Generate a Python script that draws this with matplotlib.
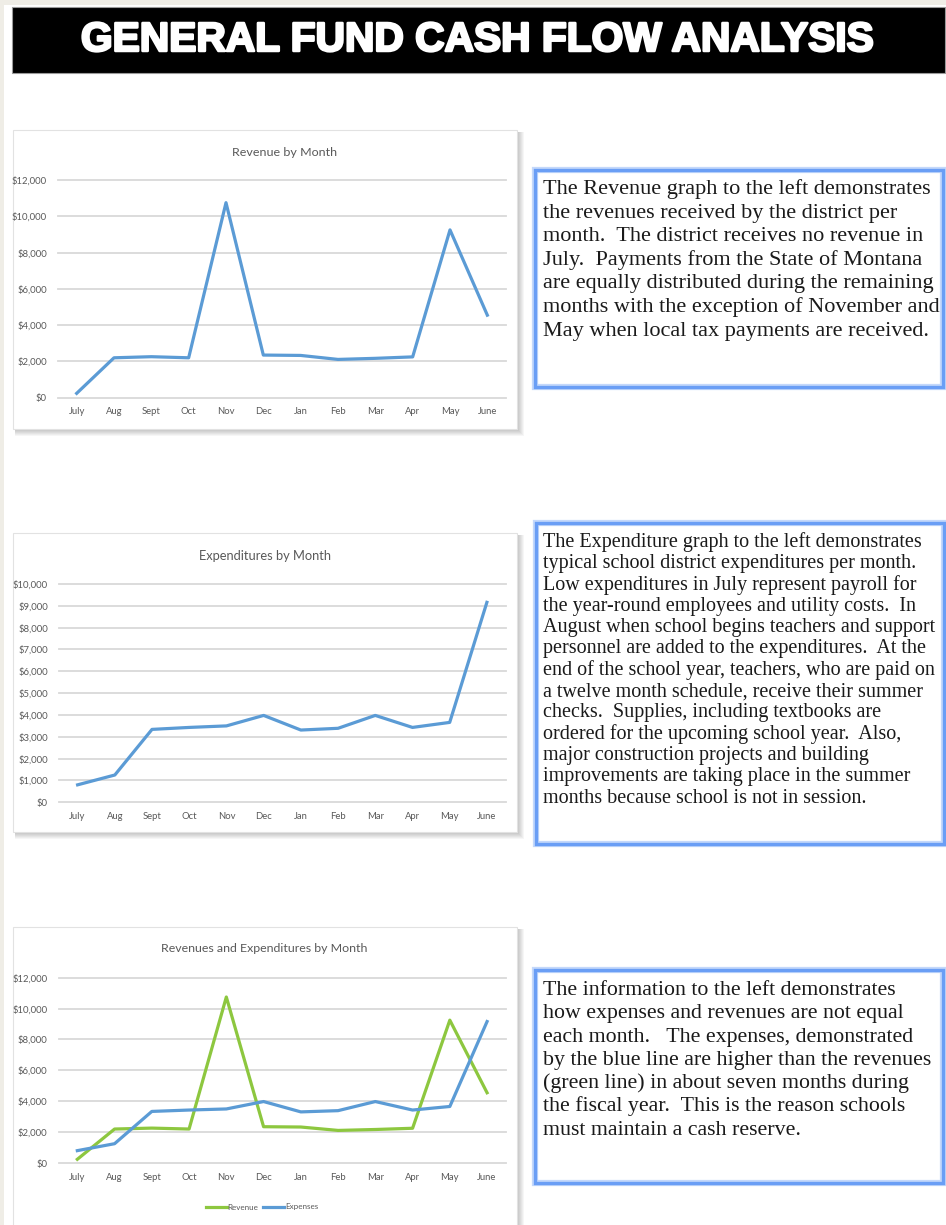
import matplotlib.pyplot as plt
import matplotlib.patheffects as pe
from matplotlib.patches import Rectangle
from matplotlib.lines import Line2D

W, H = 946, 1225

months = ['July', 'Aug', 'Sept', 'Oct', 'Nov', 'Dec', 'Jan', 'Feb', 'Mar', 'Apr', 'May', 'June']
revenue = [240, 2200, 2260, 2200, 10750, 2350, 2330, 2110, 2170, 2250, 9250, 4550]
expenses = [800, 1250, 3340, 3430, 3500, 3980, 3310, 3390, 3980, 3430, 3660, 9160]

page_title = 'GENERAL FUND CASH FLOW ANALYSIS'
chart_titles = ['Revenue by Month', 'Expenditures by Month', 'Revenues and Expenditures by Month']

text1 = ['The Revenue graph to the left demonstrates',
         'the revenues received by the district per',
         'month.  The district receives no revenue in',
         'July.  Payments from the State of Montana',
         'are equally distributed during the remaining',
         'months with the exception of November and',
         'May when local tax payments are received.']
text2 = ['The Expenditure graph to the left demonstrates',
         'typical school district expenditures per month.',
         'Low expenditures in July represent payroll for',
         'the year-round employees and utility costs.  In',
         'August when school begins teachers and support',
         'personnel are added to the expenditures.  At the',
         'end of the school year, teachers, who are paid on',
         'a twelve month schedule, receive their summer',
         'checks.  Supplies, including textbooks are',
         'ordered for the upcoming school year.  Also,',
         'major construction projects and building',
         'improvements are taking place in the summer',
         'months because school is not in session.']
text3 = ['The information to the left demonstrates',
         'how expenses and revenues are not equal',
         'each month.   The expenses, demonstrated',
         'by the blue line are higher than the revenues',
         '(green line) in about seven months during',
         'the fiscal year.  This is the reason schools',
         'must maintain a cash reserve.']

BLUE = '#5b9bd5'
GREEN = '#8dc73f'
GRAY_TXT = '#595959'
GRID = '#d9d9d9'
BOX_BLUE = '#6a9ef5'
CHART_FONT = ['Lato', 'DejaVu Sans']
SERIF = ['Liberation Serif', 'DejaVu Serif']

fig = plt.figure(figsize=(W / 100, H / 100), dpi=100)
fig.patch.set_facecolor('white')
renderer = fig.canvas.get_renderer()


def fx(x):
    return x / W


def fy(y):
    return 1 - y / H


def rect(x0, y0, x1, y1, **kw):
    r = Rectangle((fx(x0), fy(y1)), (x1 - x0) / W, (y1 - y0) / H,
                  transform=fig.transFigure, **kw)
    fig.add_artist(r)
    return r


def fit_text(x, y, s, width_px, **kw):
    t = fig.text(fx(x), fy(y), s, fontsize=10, **kw)
    w = t.get_window_extent(renderer).width
    t.set_fontsize(10 * width_px / w)
    return t


# page background strips
rect(0, 0, 4, H, facecolor='#efede6', edgecolor='none', zorder=-5)
rect(0, 0, W, 5, facecolor='#efede6', edgecolor='none', zorder=-5)

# title bar
rect(12, 7, 945, 73, facecolor='black', edgecolor='#9a9a9a', linewidth=0.8, zorder=-3)
fit_text(478, 40, page_title, 790, color='white', fontweight='bold',
         family=['Liberation Sans', 'DejaVu Sans'], ha='center', va='center',
         path_effects=[pe.withStroke(linewidth=1.8, foreground='white')])


def chart_frame(x0, y0, x1, y1):
    # soft drop shadow on the right and bottom
    for i in range(7, 0, -1):
        rect(x0 + 2, y0 + 2, x1 + i, y1 + i, facecolor='#000000', edgecolor='none',
             alpha=0.035, zorder=-4)
    rect(x0, y0, x1, y1, facecolor='white', edgecolor='#e2e2e2', linewidth=0.8, zorder=-3)


def draw_chart(box, series, ymax, ystep):
    x0, y0, x1, y1 = box
    ax = fig.add_axes((fx(x0), fy(y1), (x1 - x0) / W, (y1 - y0) / H))
    ax.set_facecolor('none')
    xs = list(range(len(months)))
    for vals, color, name in series:
        ax.plot(xs, vals, color=color, lw=2.3, label=name, zorder=3)
    ax.set_xlim(-0.5, len(months) - 0.5)
    ax.set_ylim(0, ymax)
    ticks = list(range(0, ymax + 1, ystep))
    ax.set_yticks(ticks)
    ax.set_yticklabels([f'${v:,}' for v in ticks])
    ax.set_xticks(xs)
    ax.set_xticklabels(months)
    ax.yaxis.grid(True, color=GRID, lw=1.3)
    for gl in ax.get_ygridlines():
        gl.set_clip_on(False)
    ax.set_axisbelow(True)
    for s in ax.spines.values():
        s.set_visible(False)
    ax.tick_params(axis='both', length=0, labelsize=6.8, colors=GRAY_TXT)
    ax.tick_params(axis='y', pad=8)
    ax.tick_params(axis='x', pad=7)
    for lab in ax.get_xticklabels() + ax.get_yticklabels():
        lab.set_family(CHART_FONT)
    return ax


# chart 1
chart_frame(13, 130, 517, 429)
draw_chart((58, 180, 506, 397.7), [(revenue, BLUE, 'Revenue')], 12000, 2000)
fit_text(285, 152, chart_titles[0], 105, color=GRAY_TXT, family=CHART_FONT,
         ha='center', va='center')

# chart 2
chart_frame(13, 533, 517, 832)
draw_chart((59, 584, 505.5, 802.3), [(expenses, BLUE, 'Expenses')], 10000, 1000)
fit_text(264.5, 556, chart_titles[1], 133, color=GRAY_TXT, family=CHART_FONT,
         ha='center', va='center')

# chart 3
chart_frame(13, 927, 517, 1240)
ax3 = draw_chart((58.7, 977.7, 505.7, 1163),
                 [(revenue, GREEN, 'Revenue'), (expenses, BLUE, 'Expenses')], 12000, 2000)
fit_text(264, 949, chart_titles[2], 208, color=GRAY_TXT, family=CHART_FONT,
         ha='center', va='center')
leg = fig.legend(handles=[Line2D([], [], color=GREEN, lw=2.3, label='Revenue'),
                          Line2D([], [], color=BLUE, lw=2.3, label='Expenses')],
                 loc='center', bbox_to_anchor=(fx(262), fy(1207)), ncol=2, frameon=False,
                 handlelength=2.6, handletextpad=0.1, columnspacing=0.6,
                 labelcolor=GRAY_TXT, prop={'family': CHART_FONT, 'size': 5.8})


def text_box(x0, y0, x1, y1, lines, first_base, step, width_px):
    rect(x0, y0, x1, y1, facecolor='white', edgecolor='#c4d8fb', linewidth=4.5, zorder=-2)
    rect(x0, y0, x1, y1, facecolor='none', edgecolor=BOX_BLUE, linewidth=2.4, zorder=-1)
    widest = max(lines, key=len)
    probe = fig.text(0, 0, widest, fontsize=10, family=SERIF)
    w = probe.get_window_extent(renderer).width
    probe.remove()
    size = 10 * width_px / w
    for i, line in enumerate(lines):
        fig.text(fx(543), fy(first_base + i * step), line, fontsize=size, family=SERIF,
                 color='#1a1a1a', ha='left', va='baseline')


text_box(535, 170, 943, 387, text1, 194, 23.6, 392)
text_box(536, 523, 944, 844, text2, 547, 21.3, 393)
text_box(535, 970, 943, 1183, text3, 995, 23.3, 388)

fig.savefig('out.png', dpi=100)
